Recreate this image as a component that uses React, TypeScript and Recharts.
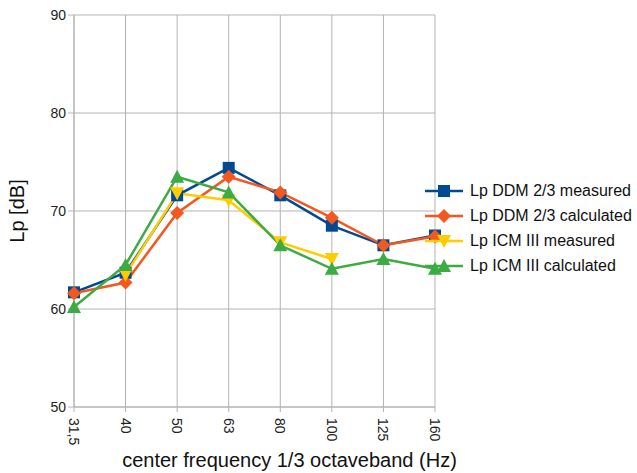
import { LineChart, Line, XAxis, YAxis, CartesianGrid, Legend } from 'recharts';

const bands = ['31,5', '40', '50', '63', '80', '100', '125', '160'];
const ddmMeasured = [61.7, 63.7, 71.6, 74.4, 71.6, 68.5, 66.5, 67.5];
const ddmCalculated = [61.6, 62.7, 69.8, 73.5, 71.9, 69.3, 66.5, 67.4];
const icmMeasured = [null, 63.5, 71.8, 71.1, 66.8, 65.1, null, null];
const icmCalculated = [60.2, 64.5, 73.5, 71.9, 66.5, 64.1, 65.1, 64.1];
const yTicks = [50, 60, 70, 80, 90];

const data = bands.map((band, i) => ({
  band,
  ddmM: ddmMeasured[i],
  ddmC: ddmCalculated[i],
  icmM: icmMeasured[i],
  icmC: icmCalculated[i],
}));

const BLUE = '#004a93';
const ORANGE = '#f4581f';
const YELLOW = '#ffcc00';
const GREEN = '#3dab44';
const GRID = '#b3b3b3';
const FONT = '"Liberation Sans", Arial, sans-serif';

type Shape = 'square' | 'diamond' | 'down' | 'up';

function Marker({ cx, cy, shape, color }: { cx: number; cy: number; shape: Shape; color: string }) {
  if (cx == null || cy == null) return null;
  if (shape === 'square') return <rect x={cx - 6} y={cy - 6} width={12} height={12} fill={color} />;
  if (shape === 'diamond')
    return <polygon points={`${cx},${cy - 7} ${cx + 7},${cy} ${cx},${cy + 7} ${cx - 7},${cy}`} fill={color} />;
  if (shape === 'down')
    return <polygon points={`${cx - 7},${cy - 6} ${cx + 7},${cy - 6} ${cx},${cy + 7}`} fill={color} />;
  return <polygon points={`${cx - 7},${cy + 6} ${cx + 7},${cy + 6} ${cx},${cy - 7}`} fill={color} />;
}

const series = [
  { key: 'ddmM', name: 'Lp DDM 2/3 measured', color: BLUE, shape: 'square' as Shape },
  { key: 'ddmC', name: 'Lp DDM 2/3 calculated', color: ORANGE, shape: 'diamond' as Shape },
  { key: 'icmM', name: 'Lp ICM III measured', color: YELLOW, shape: 'down' as Shape },
  { key: 'icmC', name: 'Lp ICM III calculated', color: GREEN, shape: 'up' as Shape },
];

function XTick(props: any) {
  const { x, y, payload } = props;
  return (
    <text
      x={0}
      y={0}
      transform={`translate(${x - 5},${y + 4}) rotate(90)`}
      textAnchor="start"
      fontSize={14}
      fill="#222"
      fontFamily={FONT}
    >
      {payload.value}
    </text>
  );
}

function LegendBox() {
  return (
    <div style={{ fontFamily: FONT, fontSize: 16, color: '#111' }}>
      {series.map((s) => (
        <div key={s.key} style={{ display: 'flex', alignItems: 'center', height: 25 }}>
          <svg width={45} height={20}>
            <line x1={0} y1={10} x2={38} y2={10} stroke={s.color} strokeWidth={2.5} />
            <Marker cx={19} cy={10} shape={s.shape} color={s.color} />
          </svg>
          <span style={{ whiteSpace: 'nowrap' }}>{s.name}</span>
        </div>
      ))}
    </div>
  );
}

export default function App() {
  return (
    <div style={{ position: 'absolute', left: 0, top: 0, width: 637, height: 473, background: '#fff' }}>
      <LineChart width={637} height={473} data={data} margin={{ top: 15, right: 202, left: 0, bottom: 0 }}>
        <CartesianGrid stroke={GRID} strokeWidth={1} />
        <XAxis
          dataKey="band"
          stroke={GRID}
          tickLine={{ stroke: GRID }}
          tickSize={5}
          tick={<XTick />}
          height={66}
          interval={0}
          label={{
            value: 'center frequency 1/3 octaveband (Hz)',
            position: 'insideBottom',
            dx: 35,
            dy: -1,
            fontSize: 20,
            fill: '#111',
            fontFamily: FONT,
          }}
        />
        <YAxis
          domain={[50, 90]}
          ticks={yTicks}
          stroke={GRID}
          tickLine={{ stroke: GRID }}
          tickSize={6}
          width={74}
          tick={{ fontSize: 14, fill: '#222', fontFamily: FONT }}
          label={{
            value: 'Lp [dB]',
            angle: -90,
            position: 'insideLeft',
            dx: 12,
            fontSize: 20,
            fill: '#111',
            fontFamily: FONT,
            style: { textAnchor: 'middle' },
          }}
        />
        <Legend
          layout="vertical"
          align="center"
          verticalAlign="middle"
          wrapperStyle={{ left: 425, top: 178, width: 212 }}
          content={<LegendBox />}
        />
        {series.map((s) => (
          <Line
            key={s.key}
            type="linear"
            dataKey={s.key}
            name={s.name}
            stroke={s.color}
            strokeWidth={2.5}
            connectNulls={false}
            isAnimationActive={false}
            dot={(p: any) => <Marker key={`${s.key}-${p.index}`} cx={p.cx} cy={p.cy} shape={s.shape} color={s.color} />}
            activeDot={false}
          />
        ))}
      </LineChart>
    </div>
  );
}
